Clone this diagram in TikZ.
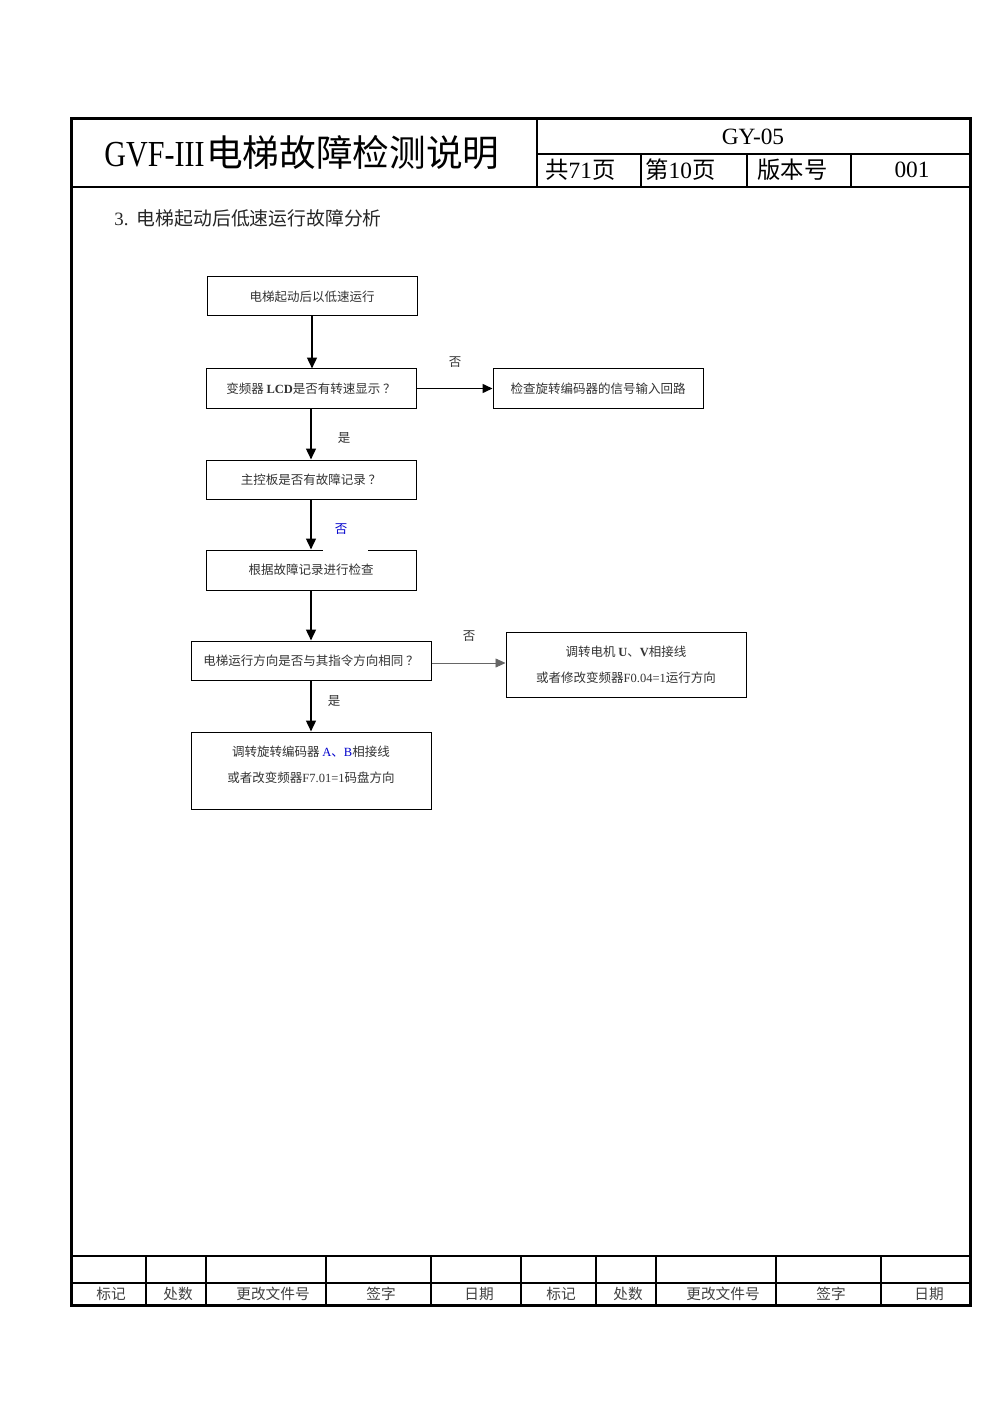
\documentclass[tikz,border=0pt]{standalone}
\usepackage{fontspec}
\setmainfont{Noto Sans CJK SC}
\newfontfamily\latinserif{Liberation Serif}
\newfontfamily\titlelatin{Liberation Serif}[FakeStretch=0.82]
\usetikzlibrary{arrows.meta,positioning,calc}

\begin{document}
\begin{tikzpicture}[x=0.6pt,y=-0.6pt,
		flowbox/.style={draw, line width=0.6pt, minimum height=39*0.6pt, inner sep=0pt,
			font=\fontsize{7.5}{15.6}\selectfont, text=black!80, align=center},
		flowarrow/.style={-{Triangle[length=6.5pt,width=5.8pt]}, line width=1.2pt},
		flowlabel/.style={font=\fontsize{7.5}{9}\selectfont, text=black!80},
		headtext/.style={font=\fontsize{14}{16}\selectfont, inner sep=0pt},
		foottext/.style={font=\fontsize{8.8}{10}\selectfont, text=black!75, inner sep=0pt}]
		\useasboundingbox[fill=white] (0,0) rectangle (992,1403);

		% page frame and header grid
		\draw[line width=1.8pt] (71,119) rectangle (970,1305);
		\draw[line width=0.9pt] (71,187) -- (970,187);
		\draw[line width=0.7pt] (537,119) -- (537,187);
		\draw[line width=0.7pt] (537,154) -- (970,154);
		\foreach \xx in {641,747,851}
			\draw[line width=0.7pt] (\xx,154) -- (\xx,187);

		\node[font=\fontsize{22}{24}\selectfont, inner sep=0pt] (title) at (302,153) {{\titlelatin GVF-III}\hspace{1pt}电梯故障检测说明};
		\node[headtext] (docno) at (753,137) {\latinserif GY-05};
		\node[headtext, anchor=west] (total) at (545,170) {共{\latinserif 71}页};
		\node[headtext, anchor=west] (page) at (645,170) {第{\latinserif 10}页};
		\node[headtext, anchor=west] (version) at (757,170) {版本号};
		\node[headtext] (verno) at (912,170) {\latinserif 001};

		\node[font=\fontsize{11.3}{13}\selectfont, anchor=west, inner sep=0pt, text=black!85] (section) at (114,218) {{\latinserif 3.}\ \ 电梯起动后低速运行故障分析};

		% flow chart
		\node[flowbox, minimum width=210*0.6pt] (start) at (312,296.5) {电梯起动后以低速运行};
		\node[flowbox, minimum width=210*0.6pt] (lcd) at (311,388.5) {变频器 {\latinserif\bfseries LCD}是否有转速显示 ？};
		\node[flowbox, minimum width=210*0.6pt] (encoder) at (598,388.5) {检查旋转编码器的信号输入回路};
		\node[flowbox, minimum width=210*0.6pt] (record) at (311,479.5) {主控板是否有故障记录 ？};
		\node[flowbox, minimum width=210*0.6pt, minimum height=40*0.6pt] (check) at (311,570) {根据故障记录进行检查};
		\node[flowbox, minimum width=240*0.6pt] (dir) at (311,660.5) {电梯运行方向是否与其指令方向相同 ？};
		\node[flowbox, minimum width=240*0.6pt, minimum height=65*0.6pt] (motor) at (626,664.5)
			{调转电机 {\latinserif\bfseries U}、{\latinserif\bfseries V}相接线\\或者修改变频器{\latinserif F0.04=1}运行方向};
		\node[flowbox, minimum width=240*0.6pt, minimum height=77*0.6pt, text depth=8pt] (swap) at (311,770.5)
			{调转旋转编码器 \textcolor{blue!80!black}{\latinserif A}\textcolor{blue!80!black}{、\latinserif B}相接线\\或者改变频器{\latinserif F7.01=1}码盘方向};

		\draw[flowarrow] (start.south) -- (start.south |- lcd.north);
		\draw[flowarrow] (lcd.south) -- (record.north);
		\draw[flowarrow] (record.south) -- (check.north);
		\draw[flowarrow] (check.south) -- (dir.north);
		\draw[flowarrow] (dir.south) -- (swap.north);
		\draw[-{Triangle[length=6pt,width=5.4pt]}, line width=0.9pt] (lcd.east) -- (encoder.west);
		\draw[-{Triangle[length=6pt,width=5.4pt]}, line width=0.4pt, draw=black!60] (dir.east |- 0,663) -- (motor.west |- 0,663);

		\node[flowlabel] (nolcd) at (455,362) {否};
		\node[flowlabel] (yeslcd) at (344,438) {是};
		\fill[white] (323,514) rectangle (368,551.5);
		\node[flowlabel, text=blue!80!black] (norecord) at (341,529) {否};
		\node[flowlabel] (nodir) at (469,636) {否};
		\node[flowlabel] (yesdir) at (334,701) {是};

		% footer grid
		\draw[line width=0.7pt] (71,1256) -- (970,1256);
		\draw[line width=0.7pt] (71,1283) -- (970,1283);
		\foreach \xx in {146,206,326,431,521,596,656,776,881}
			\draw[line width=0.7pt] (\xx,1256) -- (\xx,1305);
		\node[foottext] (markA) at (111,1294) {标记};
		\node[foottext] (countA) at (178,1294) {处数};
		\node[foottext] (fileA) at (273,1294) {更改文件号};
		\node[foottext] (signA) at (381,1294) {签字};
		\node[foottext] (dateA) at (479,1294) {日期};
		\node[foottext] (markB) at (561,1294) {标记};
		\node[foottext] (countB) at (628,1294) {处数};
		\node[foottext] (fileB) at (723,1294) {更改文件号};
		\node[foottext] (signB) at (831,1294) {签字};
		\node[foottext] (dateB) at (929,1294) {日期};
	\end{tikzpicture}
\end{document}
